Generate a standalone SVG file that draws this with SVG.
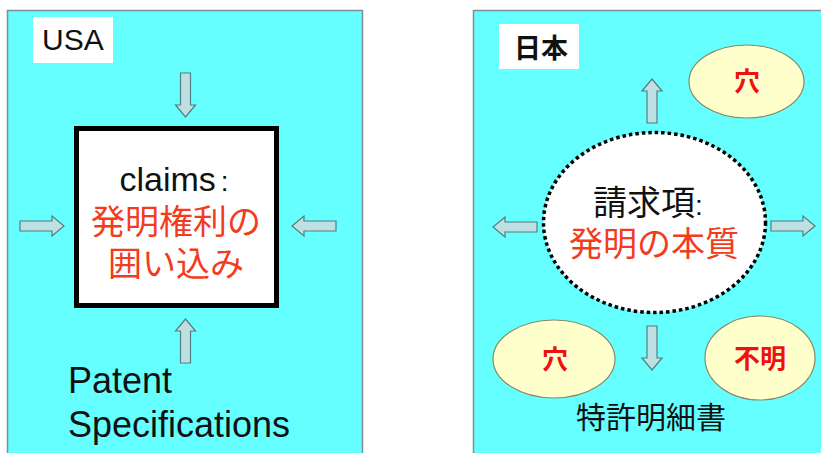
<svg xmlns="http://www.w3.org/2000/svg" xmlns:xlink="http://www.w3.org/1999/xlink" width="821" height="453" viewBox="0 0 821 453">
<style>
.panel{fill:#66ffff;stroke:#7f8f8f;stroke-width:1.5}
.label{fill:#ffffff}
.t{font-family:"Liberation Sans","Noto Sans CJK JP",sans-serif;fill:#111111}
.red{fill:#f23c20}
.hole{fill:#ffffcc;stroke:#8a8a66;stroke-width:1.2}
.holetxt{font-family:"Noto Sans CJK JP",sans-serif;font-weight:bold;font-size:26px;fill:#ee1111}
.arrow{fill:#bfe0e2;stroke:#4f7f80;stroke-width:1.2}
</style>
<defs>
<path id="arr" class="arrow" d="M0,-5 H32 V-10 L44,0 L32,10 V5 H0 Z"/>
</defs>
<rect width="821" height="453" fill="#ffffff"/>

<g id="usa-panel">
<rect class="panel" x="7.5" y="10.5" width="355" height="450"/>
<rect class="label" x="33" y="17" width="80" height="46"/>
<text class="t" x="42" y="50" font-size="30">USA</text>
</g>

<g id="claims-box">
<rect x="76.5" y="128.5" width="200" height="177" fill="#ffffff" stroke="#000000" stroke-width="5"/>
<text class="t" x="174" y="191" font-size="34" text-anchor="middle">claims<tspan font-size="28" dx="5">:</tspan></text>
<text class="t red" x="176" y="234" font-size="34" text-anchor="middle">発明権利の</text>
<text class="t red" x="176" y="276" font-size="34" text-anchor="middle">囲い込み</text>
</g>

<g id="patent-spec">
<text class="t" x="68" y="393" font-size="36">Patent</text>
<text class="t" x="68" y="437" font-size="36">Specifications</text>
</g>

<g id="japan-panel">
<rect class="panel" x="473.5" y="10.5" width="360" height="450"/>
<rect class="label" x="499" y="24" width="80" height="45"/>
<text class="t" x="541" y="58" font-size="27" text-anchor="middle" font-weight="bold">日本</text>
</g>

<g id="claim-core">
<ellipse cx="654.5" cy="222.5" rx="111" ry="90" fill="#ffffff" stroke="#000000" stroke-width="3.5" stroke-dasharray="3.5 3"/>
<text class="t" x="648" y="215" font-size="34" text-anchor="middle">請求項<tspan font-size="28">:</tspan></text>
<text class="t red" x="654" y="256" font-size="34" text-anchor="middle">発明の本質</text>
</g>

<g id="hole-top">
<ellipse class="hole" cx="746.5" cy="81.5" rx="57.5" ry="36.5"/>
<text class="holetxt" x="747" y="91" text-anchor="middle">穴</text>
</g>

<g id="hole-left">
<ellipse class="hole" cx="554" cy="359" rx="61" ry="39"/>
<text class="holetxt" x="555" y="369" text-anchor="middle">穴</text>
</g>

<g id="unclear">
<ellipse class="hole" cx="760" cy="358" rx="55" ry="42"/>
<text class="holetxt" x="760" y="368" text-anchor="middle">不明</text>
</g>

<g id="spec-jp">
<text class="t" x="651" y="428" font-size="30" text-anchor="middle">特許明細書</text>
</g>

<g id="connectors">
<use xlink:href="#arr" transform="translate(185.5,73) rotate(90)"/>
<use xlink:href="#arr" transform="translate(185.5,363) rotate(-90)"/>
<use xlink:href="#arr" transform="translate(20,226)"/>
<use xlink:href="#arr" transform="translate(336,226) rotate(180)"/>
<use xlink:href="#arr" transform="translate(652,123) rotate(-90)"/>
<use xlink:href="#arr" transform="translate(537,227) rotate(180)"/>
<use xlink:href="#arr" transform="translate(771,226)"/>
<use xlink:href="#arr" transform="translate(652,326) rotate(90)"/>
</g>
</svg>
